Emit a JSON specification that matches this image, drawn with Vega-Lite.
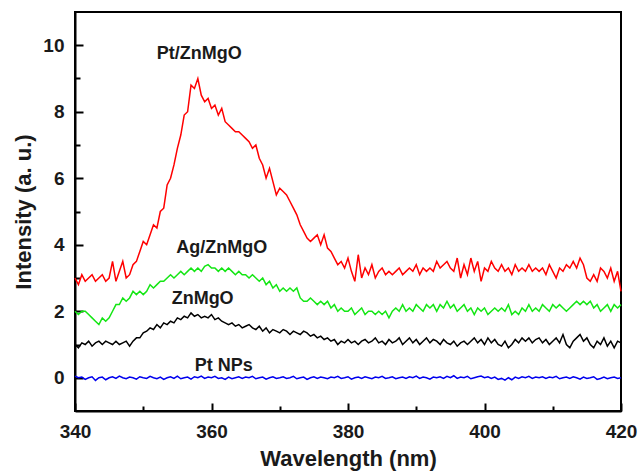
{
"$schema": "https://vega.github.io/schema/vega-lite/v6.json",
"width": 546, "height": 399,
"autosize": {"type": "none"},
"padding": {"left": 75, "top": 12, "right": 17, "bottom": 61},
"background": "white",
"config": {"view": {"stroke": "black", "strokeWidth": 2}, "font": "Liberation Sans"},
"layer": [
{
"data": {"values": [
{"wl":340,"pt":3.0,"ag":2.0,"zn":1.0,"np":0.05},
{"wl":340.5,"pt":2.8,"ag":1.9,"zn":0.9,"np":0.0},
{"wl":341,"pt":3.1,"ag":2.0,"zn":1.05,"np":0.02},
{"wl":341.5,"pt":2.9,"ag":2.0,"zn":1.0,"np":-0.05},
{"wl":342,"pt":3.0,"ag":1.9,"zn":1.1,"np":0.0},
{"wl":342.5,"pt":3.1,"ag":1.8,"zn":0.95,"np":0.03},
{"wl":343,"pt":2.9,"ag":1.7,"zn":1.05,"np":-0.08},
{"wl":343.5,"pt":3.0,"ag":1.6,"zn":1.1,"np":0.0},
{"wl":344,"pt":3.1,"ag":1.8,"zn":1.0,"np":0.02},
{"wl":344.5,"pt":2.9,"ag":1.7,"zn":1.1,"np":-0.06},
{"wl":345,"pt":3.0,"ag":1.8,"zn":1.05,"np":0.0},
{"wl":345.5,"pt":3.5,"ag":2.0,"zn":1.0,"np":0.03},
{"wl":346,"pt":2.9,"ag":2.2,"zn":1.1,"np":-0.02},
{"wl":346.5,"pt":3.2,"ag":2.2,"zn":1.0,"np":0.05},
{"wl":347,"pt":3.5,"ag":2.4,"zn":1.05,"np":0.0},
{"wl":347.5,"pt":3.0,"ag":2.3,"zn":1.1,"np":-0.03},
{"wl":348,"pt":3.1,"ag":2.4,"zn":0.95,"np":0.02},
{"wl":348.5,"pt":3.4,"ag":2.6,"zn":1.1,"np":0.0},
{"wl":349,"pt":3.5,"ag":2.5,"zn":1.2,"np":-0.04},
{"wl":349.5,"pt":3.8,"ag":2.6,"zn":1.2,"np":0.03},
{"wl":350,"pt":4.1,"ag":2.5,"zn":1.35,"np":0.0},
{"wl":350.5,"pt":4.0,"ag":2.6,"zn":1.4,"np":-0.02},
{"wl":351,"pt":4.3,"ag":2.8,"zn":1.5,"np":0.04},
{"wl":351.5,"pt":4.6,"ag":2.7,"zn":1.45,"np":0.0},
{"wl":352,"pt":4.5,"ag":2.8,"zn":1.6,"np":-0.03},
{"wl":352.5,"pt":5.0,"ag":2.9,"zn":1.5,"np":0.02},
{"wl":353,"pt":5.1,"ag":2.9,"zn":1.65,"np":-0.05},
{"wl":353.5,"pt":5.8,"ag":3.0,"zn":1.6,"np":0.0},
{"wl":354,"pt":6.0,"ag":3.1,"zn":1.7,"np":0.03},
{"wl":354.5,"pt":6.4,"ag":3.0,"zn":1.65,"np":-0.02},
{"wl":355,"pt":6.9,"ag":3.1,"zn":1.8,"np":0.05},
{"wl":355.5,"pt":7.3,"ag":3.2,"zn":1.75,"np":-0.03},
{"wl":356,"pt":7.9,"ag":3.1,"zn":1.85,"np":0.0},
{"wl":356.5,"pt":8.0,"ag":3.2,"zn":1.8,"np":0.02},
{"wl":357,"pt":8.8,"ag":3.3,"zn":1.95,"np":-0.04},
{"wl":357.5,"pt":8.7,"ag":3.2,"zn":1.85,"np":0.03},
{"wl":358,"pt":9.0,"ag":3.3,"zn":1.9,"np":0.0},
{"wl":358.5,"pt":8.5,"ag":3.2,"zn":1.8,"np":0.05},
{"wl":359,"pt":8.3,"ag":3.35,"zn":1.85,"np":-0.02},
{"wl":359.5,"pt":8.4,"ag":3.4,"zn":1.8,"np":0.02},
{"wl":360,"pt":8.1,"ag":3.3,"zn":1.9,"np":0.0},
{"wl":360.5,"pt":8.2,"ag":3.3,"zn":1.75,"np":0.04},
{"wl":361,"pt":7.9,"ag":3.2,"zn":1.8,"np":-0.02},
{"wl":361.5,"pt":8.1,"ag":3.3,"zn":1.7,"np":0.0},
{"wl":362,"pt":7.7,"ag":3.2,"zn":1.65,"np":-0.05},
{"wl":362.5,"pt":7.6,"ag":3.3,"zn":1.6,"np":0.02},
{"wl":363,"pt":7.5,"ag":3.2,"zn":1.65,"np":-0.03},
{"wl":363.5,"pt":7.4,"ag":3.1,"zn":1.55,"np":0.0},
{"wl":364,"pt":7.4,"ag":3.2,"zn":1.6,"np":0.03},
{"wl":364.5,"pt":7.3,"ag":3.1,"zn":1.5,"np":-0.02},
{"wl":365,"pt":7.2,"ag":3.1,"zn":1.55,"np":0.02},
{"wl":365.5,"pt":7.1,"ag":3.0,"zn":1.6,"np":0.0},
{"wl":366,"pt":6.9,"ag":3.1,"zn":1.5,"np":0.04},
{"wl":366.5,"pt":7.0,"ag":3.0,"zn":1.45,"np":-0.03},
{"wl":367,"pt":6.6,"ag":2.9,"zn":1.55,"np":0.0},
{"wl":367.5,"pt":6.4,"ag":3.0,"zn":1.4,"np":0.02},
{"wl":368,"pt":6.0,"ag":2.8,"zn":1.5,"np":-0.04},
{"wl":368.5,"pt":6.3,"ag":2.9,"zn":1.35,"np":0.0},
{"wl":369,"pt":5.9,"ag":2.7,"zn":1.45,"np":0.03},
{"wl":369.5,"pt":5.5,"ag":2.8,"zn":1.4,"np":-0.02},
{"wl":370,"pt":5.7,"ag":2.6,"zn":1.35,"np":0.0},
{"wl":370.5,"pt":5.6,"ag":2.7,"zn":1.45,"np":0.03},
{"wl":371,"pt":5.5,"ag":2.6,"zn":1.4,"np":-0.02},
{"wl":371.5,"pt":5.3,"ag":2.7,"zn":1.3,"np":0.0},
{"wl":372,"pt":5.1,"ag":2.6,"zn":1.4,"np":0.04},
{"wl":372.5,"pt":4.9,"ag":2.7,"zn":1.35,"np":-0.03},
{"wl":373,"pt":4.6,"ag":2.4,"zn":1.3,"np":0.0},
{"wl":373.5,"pt":4.4,"ag":2.3,"zn":1.4,"np":0.02},
{"wl":374,"pt":4.2,"ag":2.3,"zn":1.35,"np":-0.05},
{"wl":374.5,"pt":4.1,"ag":2.4,"zn":1.25,"np":0.0},
{"wl":375,"pt":4.2,"ag":2.3,"zn":1.3,"np":0.03},
{"wl":375.5,"pt":4.3,"ag":2.2,"zn":1.2,"np":-0.02},
{"wl":376,"pt":4.0,"ag":2.3,"zn":1.25,"np":0.02},
{"wl":376.5,"pt":4.3,"ag":2.2,"zn":1.15,"np":0.0},
{"wl":377,"pt":3.9,"ag":2.3,"zn":1.2,"np":-0.03},
{"wl":377.5,"pt":3.8,"ag":2.1,"zn":1.1,"np":0.02},
{"wl":378,"pt":3.6,"ag":2.2,"zn":1.15,"np":0.0},
{"wl":378.5,"pt":3.4,"ag":2.0,"zn":1.0,"np":0.04},
{"wl":379,"pt":3.5,"ag":2.1,"zn":1.1,"np":-0.02},
{"wl":379.5,"pt":3.3,"ag":2.0,"zn":1.05,"np":0.0},
{"wl":380,"pt":3.6,"ag":2.0,"zn":1.15,"np":0.03},
{"wl":380.5,"pt":3.2,"ag":2.1,"zn":1.05,"np":-0.04},
{"wl":381,"pt":2.9,"ag":1.9,"zn":1.1,"np":0.0},
{"wl":381.5,"pt":3.7,"ag":2.0,"zn":1.0,"np":0.02},
{"wl":382,"pt":3.0,"ag":2.1,"zn":1.1,"np":-0.02},
{"wl":382.5,"pt":3.3,"ag":1.9,"zn":1.15,"np":0.03},
{"wl":383,"pt":3.1,"ag":2.0,"zn":1.05,"np":0.0},
{"wl":383.5,"pt":3.4,"ag":2.0,"zn":1.1,"np":-0.03},
{"wl":384,"pt":3.0,"ag":1.9,"zn":1.2,"np":0.02},
{"wl":384.5,"pt":3.2,"ag":2.0,"zn":1.05,"np":0.0},
{"wl":385,"pt":3.3,"ag":1.9,"zn":1.1,"np":0.04},
{"wl":385.5,"pt":3.1,"ag":2.0,"zn":1.0,"np":-0.02},
{"wl":386,"pt":3.2,"ag":1.8,"zn":1.15,"np":0.0},
{"wl":386.5,"pt":3.1,"ag":2.0,"zn":1.05,"np":0.03},
{"wl":387,"pt":3.2,"ag":2.1,"zn":1.1,"np":-0.03},
{"wl":387.5,"pt":3.3,"ag":2.0,"zn":1.2,"np":0.0},
{"wl":388,"pt":3.1,"ag":2.2,"zn":1.0,"np":0.02},
{"wl":388.5,"pt":3.2,"ag":2.0,"zn":1.1,"np":-0.02},
{"wl":389,"pt":3.3,"ag":2.1,"zn":1.2,"np":0.03},
{"wl":389.5,"pt":3.2,"ag":2.0,"zn":1.05,"np":0.0},
{"wl":390,"pt":3.4,"ag":2.2,"zn":1.15,"np":0.05},
{"wl":390.5,"pt":3.1,"ag":2.1,"zn":1.0,"np":-0.02},
{"wl":391,"pt":3.3,"ag":2.0,"zn":1.1,"np":0.02},
{"wl":391.5,"pt":3.2,"ag":2.2,"zn":1.2,"np":0.0},
{"wl":392,"pt":3.3,"ag":2.1,"zn":1.05,"np":-0.04},
{"wl":392.5,"pt":3.2,"ag":2.2,"zn":1.15,"np":0.02},
{"wl":393,"pt":3.5,"ag":2.0,"zn":1.1,"np":0.0},
{"wl":393.5,"pt":3.3,"ag":2.2,"zn":1.0,"np":0.03},
{"wl":394,"pt":3.4,"ag":2.1,"zn":1.15,"np":-0.02},
{"wl":394.5,"pt":3.5,"ag":2.3,"zn":1.05,"np":0.04},
{"wl":395,"pt":3.3,"ag":2.1,"zn":1.0,"np":0.0},
{"wl":395.5,"pt":3.2,"ag":2.2,"zn":1.1,"np":0.06},
{"wl":396,"pt":3.6,"ag":2.0,"zn":0.95,"np":-0.02},
{"wl":396.5,"pt":3.0,"ag":2.1,"zn":1.05,"np":0.02},
{"wl":397,"pt":3.4,"ag":2.2,"zn":1.1,"np":0.0},
{"wl":397.5,"pt":3.1,"ag":2.0,"zn":1.0,"np":0.04},
{"wl":398,"pt":3.6,"ag":2.1,"zn":1.1,"np":-0.03},
{"wl":398.5,"pt":3.2,"ag":1.9,"zn":1.2,"np":0.0},
{"wl":399,"pt":3.5,"ag":2.1,"zn":1.05,"np":0.03},
{"wl":399.5,"pt":2.9,"ag":2.0,"zn":1.15,"np":0.05},
{"wl":400,"pt":3.3,"ag":2.1,"zn":1.0,"np":0.0},
{"wl":400.5,"pt":3.2,"ag":1.9,"zn":1.2,"np":0.03},
{"wl":401,"pt":3.5,"ag":2.0,"zn":1.05,"np":-0.02},
{"wl":401.5,"pt":3.3,"ag":2.1,"zn":1.15,"np":0.02},
{"wl":402,"pt":3.2,"ag":2.0,"zn":1.0,"np":-0.05},
{"wl":402.5,"pt":3.4,"ag":2.1,"zn":0.95,"np":-0.02},
{"wl":403,"pt":3.2,"ag":2.0,"zn":1.1,"np":-0.07},
{"wl":403.5,"pt":3.3,"ag":2.2,"zn":0.9,"np":0.0},
{"wl":404,"pt":3.1,"ag":1.9,"zn":1.0,"np":-0.06},
{"wl":404.5,"pt":3.4,"ag":2.0,"zn":1.15,"np":0.02},
{"wl":405,"pt":3.2,"ag":1.9,"zn":1.05,"np":-0.02},
{"wl":405.5,"pt":3.3,"ag":2.1,"zn":1.2,"np":0.03},
{"wl":406,"pt":3.2,"ag":2.0,"zn":1.1,"np":0.0},
{"wl":406.5,"pt":3.4,"ag":2.2,"zn":1.2,"np":0.04},
{"wl":407,"pt":3.2,"ag":2.0,"zn":1.05,"np":-0.02},
{"wl":407.5,"pt":3.3,"ag":2.1,"zn":1.15,"np":0.02},
{"wl":408,"pt":3.2,"ag":2.0,"zn":1.2,"np":0.0},
{"wl":408.5,"pt":3.3,"ag":2.2,"zn":1.05,"np":0.03},
{"wl":409,"pt":3.1,"ag":2.1,"zn":1.15,"np":-0.02},
{"wl":409.5,"pt":3.4,"ag":2.0,"zn":1.0,"np":0.02},
{"wl":410,"pt":3.2,"ag":2.2,"zn":1.1,"np":0.0},
{"wl":410.5,"pt":3.0,"ag":2.1,"zn":1.2,"np":0.04},
{"wl":411,"pt":3.3,"ag":2.2,"zn":1.05,"np":-0.03},
{"wl":411.5,"pt":3.2,"ag":2.1,"zn":1.3,"np":0.0},
{"wl":412,"pt":3.4,"ag":2.0,"zn":1.0,"np":0.02},
{"wl":412.5,"pt":3.3,"ag":2.1,"zn":0.9,"np":-0.02},
{"wl":413,"pt":3.5,"ag":2.2,"zn":1.1,"np":0.03},
{"wl":413.5,"pt":3.3,"ag":2.3,"zn":1.2,"np":0.0},
{"wl":414,"pt":3.6,"ag":2.2,"zn":1.3,"np":-0.04},
{"wl":414.5,"pt":3.4,"ag":2.3,"zn":1.1,"np":0.02},
{"wl":415,"pt":3.0,"ag":2.2,"zn":1.2,"np":-0.02},
{"wl":415.5,"pt":2.9,"ag":2.3,"zn":1.0,"np":0.0},
{"wl":416,"pt":3.1,"ag":2.1,"zn":0.9,"np":0.03},
{"wl":416.5,"pt":2.9,"ag":2.2,"zn":1.1,"np":-0.05},
{"wl":417,"pt":3.3,"ag":2.0,"zn":1.0,"np":-0.02},
{"wl":417.5,"pt":3.2,"ag":2.1,"zn":1.2,"np":0.02},
{"wl":418,"pt":3.0,"ag":2.2,"zn":0.95,"np":-0.03},
{"wl":418.5,"pt":3.3,"ag":2.0,"zn":1.1,"np":0.0},
{"wl":419,"pt":2.9,"ag":2.2,"zn":0.9,"np":0.02},
{"wl":419.5,"pt":3.2,"ag":2.1,"zn":1.1,"np":-0.02},
{"wl":420,"pt":2.6,"ag":2.2,"zn":1.05,"np":0.0}
]},
"transform": [{"fold": ["np", "zn", "ag", "pt"], "as": ["series", "intensity"]}],
"mark": {"type": "line", "strokeWidth": 1.5},
"encoding": {
"x": {"field": "wl", "type": "quantitative", "scale": {"domain": [340, 420], "nice": false, "zero": false},
 "axis": {"values": [340, 360, 380, 400, 420], "tickSize": -8, "tickWidth": 2, "tickColor": "black", "domainColor": "black", "domainWidth": 2, "grid": false,
  "labelFont": "Liberation Sans", "labelFontWeight": "bold", "labelFontSize": 19, "labelColor": "#1a1a1a", "labelPadding": 19, "labelFlush": false,
  "title": "Wavelength (nm)", "titleFont": "Liberation Sans", "titleFontWeight": "bold", "titleFontSize": 22, "titleColor": "#1a1a1a", "titlePadding": 7}},
"y": {"field": "intensity", "type": "quantitative", "scale": {"domain": [-1, 11], "nice": false, "zero": false},
 "axis": {"values": [0, 2, 4, 6, 8, 10], "tickSize": -8, "tickWidth": 2, "tickColor": "black", "domainColor": "black", "domainWidth": 2, "grid": false,
  "labelFont": "Liberation Sans", "labelFontWeight": "bold", "labelFontSize": 19, "labelColor": "#1a1a1a", "labelPadding": 19,
  "title": "Intensity (a. u.)", "titleFont": "Liberation Sans", "titleFontWeight": "bold", "titleFontSize": 22, "titleColor": "#1a1a1a", "titlePadding": 7}},
"color": {"field": "series", "type": "nominal", "scale": {"domain": ["pt", "ag", "zn", "np"], "range": ["#ff0000", "#14e614", "#000000", "#0000ee"]}, "legend": null}
}
},
{
"data": {"values": [
{"label": "Pt/ZnMgO", "wl": 358.2, "intensity": 9.75},
{"label": "Ag/ZnMgO", "wl": 361.5, "intensity": 3.9},
{"label": "ZnMgO", "wl": 358.7, "intensity": 2.38},
{"label": "Pt NPs", "wl": 361.8, "intensity": 0.36}
]},
"mark": {"type": "text", "font": "Liberation Sans", "fontWeight": "bold", "fontSize": 18, "color": "#1a1a1a", "align": "center", "baseline": "middle"},
"encoding": {
"x": {"field": "wl", "type": "quantitative", "scale": {"domain": [340, 420], "nice": false, "zero": false},
 "axis": {"orient": "bottom", "values": [350, 370, 390, 410], "tickSize": -5, "tickWidth": 2, "tickColor": "black", "labels": false, "domain": false, "grid": false, "title": null}},
"y": {"field": "intensity", "type": "quantitative", "scale": {"domain": [-1, 11], "nice": false, "zero": false},
 "axis": {"orient": "left", "values": [1, 3, 5, 7, 9], "tickSize": -5, "tickWidth": 2, "tickColor": "black", "labels": false, "domain": false, "grid": false, "title": null}},
"text": {"field": "label"}
}
}
],
"resolve": {"axis": {"x": "independent", "y": "independent"}}
}
